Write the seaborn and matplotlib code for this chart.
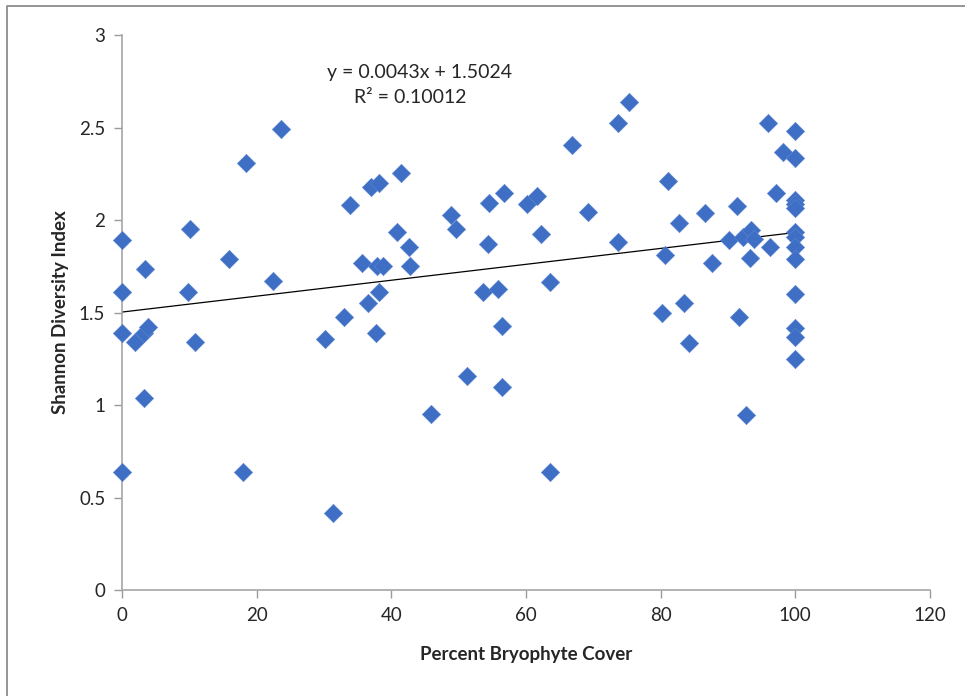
import matplotlib
matplotlib.use("Agg")
import matplotlib.pyplot as plt
import matplotlib.ticker as mticker
from matplotlib.lines import Line2D
import numpy as np
import pandas as pd
import seaborn as sns

# Percent bryophyte cover per plot
cover = [
    0, 0, 0, 0,
    1.9, 3.2, 3.8, 3.3, 3.4,
    9.85, 10.1, 10.8,
    15.9, 18.0, 18.4, 22.4, 23.6,
    30.2, 31.4, 33.0, 33.8,
    35.7, 36.6, 37.0, 37.7, 37.9, 38.1, 38.2, 38.7,
    40.9, 41.5, 42.7, 42.8,
    45.85, 48.8, 49.6, 51.2,
    53.6, 54.4, 54.55, 55.8, 56.5, 56.5, 56.7,
    60.1, 61.7, 62.3, 63.6, 63.6, 66.8, 69.25,
    73.6, 73.6, 75.35,
    80.25, 80.65, 81.1, 82.8, 83.5, 84.2, 86.6, 87.7,
    90.2, 91.4, 91.7, 92.2, 92.75, 93.2, 93.4, 93.8, 95.9, 96.3, 97.2, 98.2,
    100, 100, 100, 100, 100, 100, 100, 100, 100, 100, 100, 100, 100,
]

# Shannon diversity index per plot
shannon = [
    1.89, 1.61, 1.39, 0.64,
    1.34, 1.39, 1.42, 1.04, 1.735,
    1.61, 1.95, 1.34,
    1.79, 0.64, 2.31, 1.67, 2.49,
    1.355, 0.414, 1.477, 2.083,
    1.769, 1.553, 2.178, 1.391, 1.753, 2.198, 1.609, 1.753,
    1.935, 2.256, 1.852, 1.753,
    0.95, 2.027, 1.95, 1.157,
    1.609, 1.87, 2.09, 1.627, 1.429, 1.099, 2.144,
    2.086, 2.132, 1.922, 1.667, 0.638, 2.407, 2.041,
    2.526, 1.879, 2.636,
    1.499, 1.811, 2.209, 1.982, 1.553, 1.337, 2.036, 1.769,
    1.892, 2.077, 1.477, 1.91, 0.946, 1.793, 1.946, 1.896, 2.526, 1.856, 2.144, 2.37,
    2.481, 2.333, 2.108, 2.086, 2.063, 1.937, 1.91, 1.856, 1.788, 1.598, 1.414, 1.369, 1.247,
]

# Linear trendline coefficients
slope = 0.0043
intercept = 1.5024
r_squared = 0.10012

x_ticks = [0, 20, 40, 60, 80, 100, 120]
y_ticks = [0, 0.5, 1, 1.5, 2, 2.5, 3]

sns.set_theme(style="white")
plt.rcParams["font.family"] = ["Lato", "DejaVu Sans"]

df = pd.DataFrame({"cover": cover, "shannon": shannon})

fig = plt.figure(figsize=(9.65, 6.96), dpi=100)
ax = fig.add_axes([0.1264, 0.1523, 0.9637 - 0.1264, 0.9497 - 0.1523])

# Chart-area frame along the top and left edges
frame_x = [0.0073, 0.0073, 1.0]
frame_y = [0.0, 0.9914, 0.9914]
fig.lines.append(Line2D(frame_x, frame_y, transform=fig.transFigure,
                        color="#8c8c8c", linewidth=1.3))

sns.scatterplot(data=df, x="cover", y="shannon", ax=ax, marker="D", s=88,
                color="#3E6FC4", edgecolor="#5B86D0", linewidth=0.4,
                zorder=3, clip_on=False)

fit_x = np.array([min(cover), max(cover)])
ax.plot(fit_x, slope * fit_x + intercept, color="black", linewidth=0.9, zorder=2)

ax.text(0.368, 0.933, f"y = {slope}x + {intercept}", transform=ax.transAxes,
        ha="center", va="center", fontsize=14)
ax.text(0.357, 0.888, f"R² = {r_squared}", transform=ax.transAxes,
        ha="center", va="center", fontsize=14)

ax.set_xlim(0, 120)
ax.set_ylim(0, 3)
ax.set_xticks(x_ticks)
ax.set_yticks(y_ticks)
ax.yaxis.set_major_formatter(mticker.FuncFormatter(lambda v, p: f"{v:g}"))
ax.tick_params(axis="both", which="major", direction="out", length=6, width=1,
               color="#9a9a9a", labelsize=13.5, pad=6)
ax.tick_params(left=True, bottom=True)

for side in ("top", "right"):
    ax.spines[side].set_visible(False)
for side in ("left", "bottom"):
    ax.spines[side].set_color("#a6a6a6")
    ax.spines[side].set_linewidth(1.2)

ax.set_xlabel("Percent Bryophyte Cover", fontsize=13.5, fontweight="bold", labelpad=16)
ax.set_ylabel("Shannon Diversity Index", fontsize=13.5, fontweight="bold", labelpad=7)

fig.savefig("out.png", dpi=100, facecolor="white")
